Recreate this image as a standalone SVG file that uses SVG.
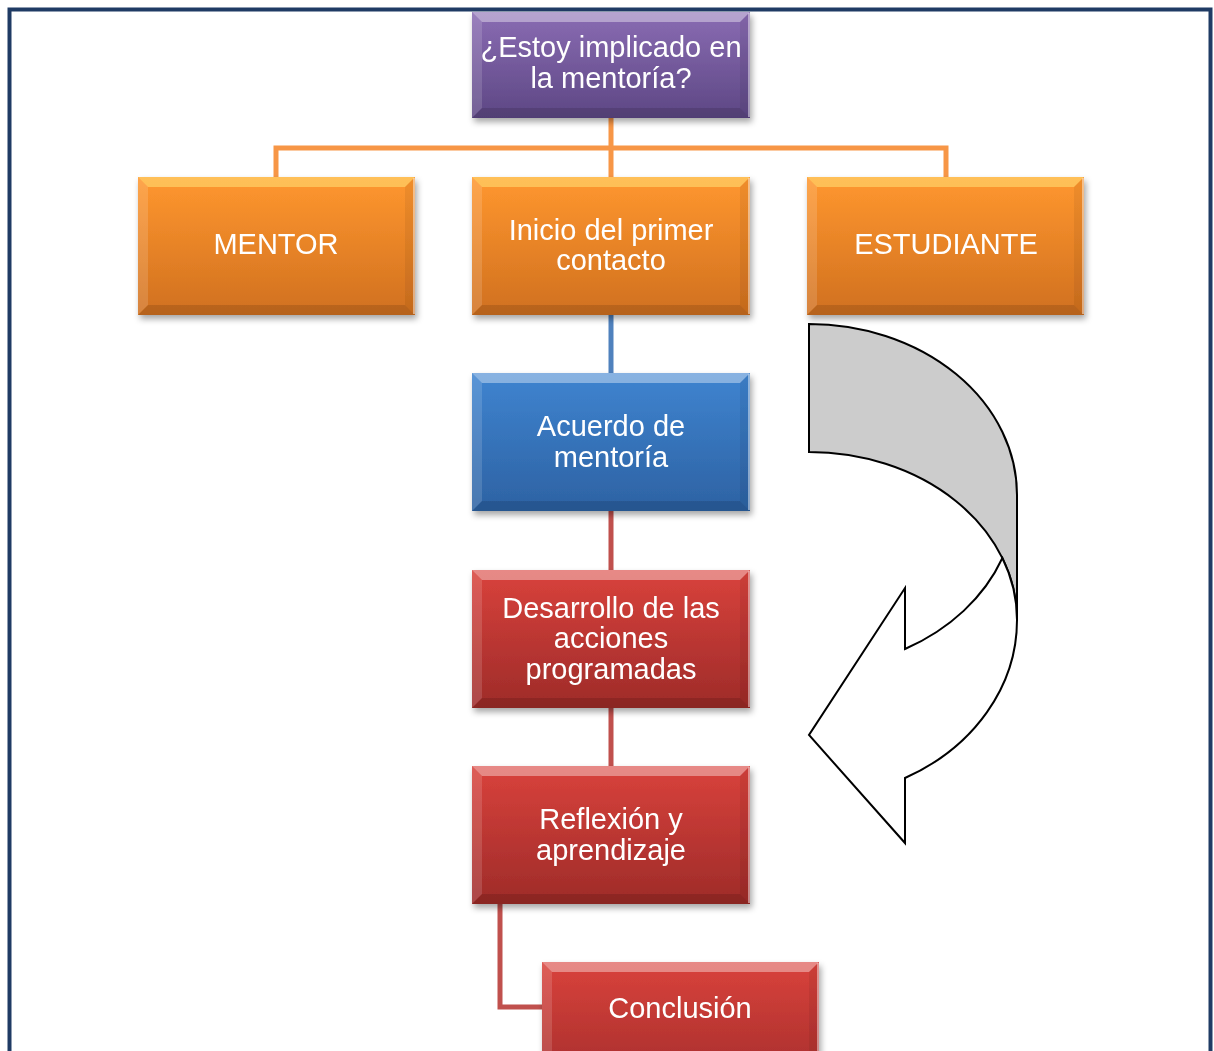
<svg xmlns="http://www.w3.org/2000/svg" width="1214" height="1051" viewBox="0 0 1214 1051">
<style>
.lbl{font-family:"Liberation Sans",Arial,sans-serif;font-size:29px;fill:#fff;text-anchor:middle}
.bt{fill:#fff;opacity:.38}
.bto{fill:#ffe27a;opacity:.55}
.bl{fill:#fff;opacity:.14}
.bb{fill:#000;opacity:.12}
.br{fill:#000;opacity:.06}
.edge{stroke:#fff;stroke-opacity:.6;stroke-width:1.5}
.con{fill:none;stroke-width:5}
</style>
<defs>
<linearGradient id="gP" x1="0" y1="0" x2="0" y2="1"><stop offset="0" stop-color="#8a6cb3"/><stop offset="1" stop-color="#5d4784"/></linearGradient>
<linearGradient id="gO" x1="0" y1="0" x2="0" y2="1"><stop offset="0" stop-color="#ff972f"/><stop offset="1" stop-color="#d0701f"/></linearGradient>
<linearGradient id="gB" x1="0" y1="0" x2="0" y2="1"><stop offset="0" stop-color="#3f84d0"/><stop offset="1" stop-color="#2d62a3"/></linearGradient>
<linearGradient id="gR" x1="0" y1="0" x2="0" y2="1"><stop offset="0" stop-color="#d9423c"/><stop offset="1" stop-color="#9e2b29"/></linearGradient>
<filter id="sh" x="-10%" y="-10%" width="125%" height="130%"><feDropShadow dx="2" dy="4" stdDeviation="3" flood-color="#000" flood-opacity=".35"/></filter>
</defs>
<rect x="0" y="0" width="1214" height="1051" fill="#fff"/>
<rect x="9.5" y="9.5" width="1201" height="1100" fill="none" stroke="#1f3b64" stroke-width="4"/>

<g id="connectors">
<path class="con" stroke="#f79646" d="M611,118 V148 M276,177 V148 H946 V177 M611,148 V177"/>
<path class="con" stroke="#4f81bd" d="M611,315 V373"/>
<path class="con" stroke="#c0504d" d="M611,511 V570 M611,708 V766"/>
<path class="con" stroke="#c0504d" d="M500,904 V1007 H542"/>
</g>

<g id="n-top" filter="url(#sh)">
<rect x="472" y="12" width="278" height="106" fill="url(#gP)"/>
<polygon class="bt" points="472,12 750,12 740,22 482,22"/>
<polygon class="bl" points="472,12 482,22 482,108 472,118"/>
<polygon class="bb" points="472,118 750,118 740,108 482,108"/>
<polygon class="br" points="750,12 750,118 740,108 740,22"/>
<line class="edge" x1="749" y1="13" x2="749" y2="117"/>
<text class="lbl" x="611" y="57">¿Estoy implicado en</text>
<text class="lbl" x="611" y="88">la mentoría?</text>
</g>

<g id="n-mentor" filter="url(#sh)">
<rect x="138" y="177" width="277" height="138" fill="url(#gO)"/>
<polygon class="bto" points="138,177 415,177 405,187 148,187"/>
<polygon class="bl" points="138,177 148,187 148,305 138,315"/>
<polygon class="bb" points="138,315 415,315 405,305 148,305"/>
<polygon class="br" points="415,177 415,315 405,305 405,187"/>
<line class="edge" x1="414" y1="178" x2="414" y2="314"/>
<text class="lbl" x="276" y="254">MENTOR</text>
</g>

<g id="n-inicio" filter="url(#sh)">
<rect x="472" y="177" width="278" height="138" fill="url(#gO)"/>
<polygon class="bto" points="472,177 750,177 740,187 482,187"/>
<polygon class="bl" points="472,177 482,187 482,305 472,315"/>
<polygon class="bb" points="472,315 750,315 740,305 482,305"/>
<polygon class="br" points="750,177 750,315 740,305 740,187"/>
<line class="edge" x1="749" y1="178" x2="749" y2="314"/>
<text class="lbl" x="611" y="240">Inicio del primer</text>
<text class="lbl" x="611" y="270">contacto</text>
</g>

<g id="n-estudiante" filter="url(#sh)">
<rect x="807" y="177" width="277" height="138" fill="url(#gO)"/>
<polygon class="bto" points="807,177 1084,177 1074,187 817,187"/>
<polygon class="bl" points="807,177 817,187 817,305 807,315"/>
<polygon class="bb" points="807,315 1084,315 1074,305 817,305"/>
<polygon class="br" points="1084,177 1084,315 1074,305 1074,187"/>
<line class="edge" x1="1083" y1="178" x2="1083" y2="314"/>
<text class="lbl" x="946" y="254">ESTUDIANTE</text>
</g>

<g id="n-acuerdo" filter="url(#sh)">
<rect x="472" y="373" width="278" height="138" fill="url(#gB)"/>
<polygon class="bt" points="472,373 750,373 740,383 482,383"/>
<polygon class="bl" points="472,373 482,383 482,501 472,511"/>
<polygon class="bb" points="472,511 750,511 740,501 482,501"/>
<polygon class="br" points="750,373 750,511 740,501 740,383"/>
<line class="edge" x1="749" y1="374" x2="749" y2="510"/>
<text class="lbl" x="611" y="436">Acuerdo de</text>
<text class="lbl" x="611" y="467">mentoría</text>
</g>

<g id="n-desarrollo" filter="url(#sh)">
<rect x="472" y="570" width="278" height="138" fill="url(#gR)"/>
<polygon class="bt" points="472,570 750,570 740,580 482,580"/>
<polygon class="bl" points="472,570 482,580 482,698 472,708"/>
<polygon class="bb" points="472,708 750,708 740,698 482,698"/>
<polygon class="br" points="750,570 750,708 740,698 740,580"/>
<line class="edge" x1="749" y1="571" x2="749" y2="707"/>
<text class="lbl" x="611" y="618">Desarrollo de las</text>
<text class="lbl" x="611" y="648">acciones</text>
<text class="lbl" x="611" y="679">programadas</text>
</g>

<g id="n-reflexion" filter="url(#sh)">
<rect x="472" y="766" width="278" height="138" fill="url(#gR)"/>
<polygon class="bt" points="472,766 750,766 740,776 482,776"/>
<polygon class="bl" points="472,766 482,776 482,894 472,904"/>
<polygon class="bb" points="472,904 750,904 740,894 482,894"/>
<polygon class="br" points="750,766 750,904 740,894 740,776"/>
<line class="edge" x1="749" y1="767" x2="749" y2="903"/>
<text class="lbl" x="611" y="829">Reflexión y</text>
<text class="lbl" x="611" y="860">aprendizaje</text>
</g>

<g id="n-conclusion" filter="url(#sh)">
<rect x="542" y="962" width="277" height="138" fill="url(#gR)"/>
<polygon class="bt" points="542,962 819,962 809,972 552,972"/>
<polygon class="bl" points="542,962 552,972 552,1090 542,1100"/>
<polygon class="br" points="819,962 819,1100 809,1090 809,972"/>
<line class="edge" x1="818" y1="963" x2="818" y2="1051"/>
<text class="lbl" x="680" y="1018">Conclusión</text>
</g>

<g id="curved-arrow" stroke="#000" stroke-width="2" stroke-linejoin="miter">
<path fill="#cccccc" d="M809,324 A208,171 0 0 1 1017,495 L1017,620 A208,168 0 0 0 809,452 Z"/>
<path fill="#fff" d="M1002.4,558 A208,168 0 0 1 1017,620 A208,178 0 0 1 905,778 L905,843 L809,735 L905,588 L905,649 A208,173 0 0 0 1002.4,558 Z"/>
</g>
</svg>
